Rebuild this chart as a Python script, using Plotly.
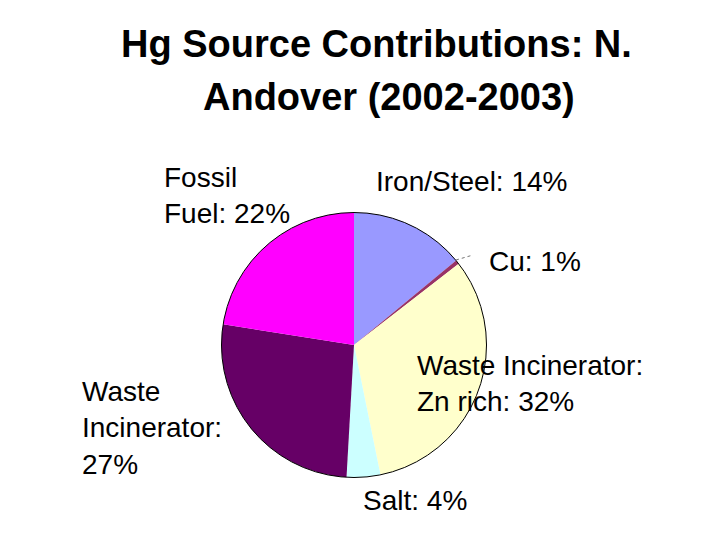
import plotly.graph_objects as go

# slice data, clockwise from 12 o'clock
sources = ["Iron/Steel", "Cu", "Waste Incinerator: Zn rich", "Salt", "Waste Incinerator", "Fossil Fuel"]
shares = [14, 0.5, 32.3, 4.1, 26.6, 22.5]
label_text = ["Iron/Steel: 14%", "Cu: 1%", "Waste Incinerator:<br>Zn rich: 32%", "Salt: 4%",
              "Waste<br>Incinerator:<br>27%", "Fossil<br>Fuel: 22%"]
colors = ["#9999FF", "#993366", "#FFFFCC", "#CCFFFF", "#660066", "#FF00FF"]

W, H = 720, 540
OFF = 8  # page body margin
FONT = "Arial, Liberation Sans, sans-serif"


def fx(x):
    return (x - OFF) / W


def fy(y):
    return 1 - (y - OFF) / H


# pie box in pixels
cx, cy, r = 354, 345, 132.5

fig = go.Figure(go.Pie(
    labels=sources, values=shares, sort=False, direction="clockwise", rotation=0,
    marker=dict(colors=colors, line=dict(width=0)),
    textinfo="none", hoverinfo="label+percent", showlegend=False,
    domain=dict(x=[fx(cx - r), fx(cx + r)], y=[fy(cy + r), fy(cy - r)]),
))

# label placement (left edge x, vertical centre y) in pixels
label_pos = [(374, 181), (487, 262), (415, 383), (361, 500), (80, 428), (162, 196)]
annotations = []
for txt, (x, y) in zip(label_text, label_pos):
    annotations.append(dict(text=txt, x=fx(x), y=fy(y), xref="paper", yref="paper",
                            xanchor="left", yanchor="middle", align="left", showarrow=False,
                            font=dict(family=FONT, size=28, color="black")))

# title, two lines
annotations.append(dict(text="<b>Hg Source Contributions: N.</b>", x=fx(377), y=fy(44), xref="paper", yref="paper",
                        xanchor="center", yanchor="middle", showarrow=False,
                        font=dict(family=FONT, size=38, color="black")))
annotations.append(dict(text="<b>Andover (2002-2003)</b>", x=fx(389), y=fy(97), xref="paper", yref="paper",
                        xanchor="center", yanchor="middle", showarrow=False,
                        font=dict(family=FONT, size=38, color="black")))

fig.update_layout(
    width=W, height=H,
    paper_bgcolor="white", plot_bgcolor="white",
    margin=dict(l=0, r=0, t=0, b=0),
    annotations=annotations,
    shapes=[
        dict(type="circle", xref="paper", yref="paper",
             x0=fx(cx - r), x1=fx(cx + r), y0=fy(cy + r), y1=fy(cy - r),
             line=dict(color="black", width=1)),
        dict(type="line", xref="paper", yref="paper",
             x0=fx(456), y0=fy(260), x1=fx(473), y1=fy(255),
             line=dict(color="#777777", width=1, dash="dot")),
    ],
)

fig.write_html("out.html")
